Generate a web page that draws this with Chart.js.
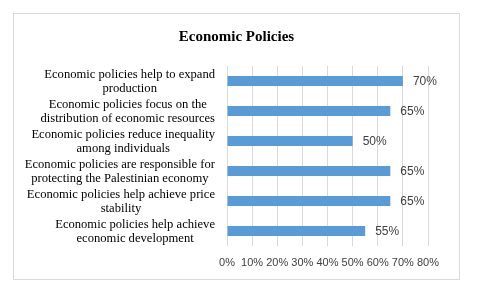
<!DOCTYPE html>
<html>
<head>
<meta charset="utf-8">
<script src="https://cdn.jsdelivr.net/npm/chart.js@4/dist/chart.umd.min.js"></script>
<style>
  html, body { margin: 0; padding: 0; background: #fff; }
  #wrap { position: relative; width: 480px; height: 293px; }
  #frame { position: absolute; left: 13px; top: 13px; width: 445px; height: 265px; border: 1px solid #d9d9d9; }
  #frame canvas { display: block; }
  #title { position: absolute; left: 0; top: 13px; width: 445px; text-align: center;
           font: bold 15px 'Liberation Serif', serif; color: #000; line-height: 18px; }
</style>
</head>
<body>
<div id="wrap">
  <div id="frame">
    <canvas id="chart" width="445" height="265"></canvas>
    <div id="title">Economic Policies</div>
  </div>
</div>
<script>
const categories = [
  ["Economic policies help to expand", "production"],
  ["Economic policies focus on the", "distribution of economic resources"],
  ["Economic policies reduce inequality", "among individuals"],
  ["Economic policies are responsible for", "protecting the Palestinian economy"],
  ["Economic policies help achieve price", "stability"],
  ["Economic policies help achieve", "economic development"]
];
const values = [70, 65, 50, 65, 65, 55];
const xTicks = [0, 10, 20, 30, 40, 50, 60, 70, 80];

const labelFont = "12.6px 'Liberation Serif', serif";

// category labels: block right-aligned to the axis, lines centred inside it
const catLabels = {
  id: "catLabels",
  afterDraw(chart) {
    const ctx = chart.ctx;
    const y = chart.scales.y;
    const right = chart.chartArea.left - 12;
    ctx.save();
    ctx.font = labelFont;
    ctx.fillStyle = "#000";
    ctx.textBaseline = "middle";
    ctx.textAlign = "center";
    categories.forEach((lines, i) => {
      const w = Math.max(...lines.map(l => ctx.measureText(l).width));
      const cx = right - w / 2;
      const cy = y.getPixelForTick(i);
      const lh = 14;
      lines.forEach((l, j) => {
        ctx.fillText(l, cx, cy + 0.5 + (j - (lines.length - 1) / 2) * lh);
      });
    });
    ctx.restore();
  }
};

// value labels at the end of each bar
const barLabels = {
  id: "barLabels",
  afterDatasetsDraw(chart) {
    const ctx = chart.ctx;
    const meta = chart.getDatasetMeta(0);
    ctx.save();
    ctx.font = "12px 'Liberation Sans', sans-serif";
    ctx.fillStyle = "#404040";
    ctx.textBaseline = "middle";
    meta.data.forEach((bar, i) => {
      ctx.fillText(values[i] + "%", bar.x + 10, bar.y + 1);
    });
    ctx.restore();
  }
};

new Chart(document.getElementById("chart"), {
  type: "bar",
  data: {
    labels: categories,
    datasets: [{
      data: values,
      backgroundColor: "#5b9bd5",
      categoryPercentage: 1,
      barPercentage: 0.34
    }]
  },
  options: {
    indexAxis: "y",
    responsive: false,
    animation: false,
    layout: { padding: { left: 0, right: 31, top: 52, bottom: 0 } },
    plugins: {
      legend: { display: false },
      tooltip: { enabled: false },
      title: { display: false }
    },
    scales: {
      x: {
        min: 0,
        max: 80,
        afterBuildTicks(axis) { axis.ticks = xTicks.map(v => ({ value: v })); },
        afterFit(axis) { axis.height = 33; },
        grid: { color: "#d9d9d9", drawTicks: false },
        border: { display: false },
        ticks: {
          padding: 10,
          autoSkip: false,
          maxRotation: 0,
          minRotation: 0,
          color: "#404040",
          font: { family: "'Liberation Sans', sans-serif", size: 11 },
          callback: v => v + "%"
        }
      },
      y: {
        afterFit(axis) { axis.width = 213; },
        grid: { display: false },
        border: { display: false },
        ticks: {
          autoSkip: false,
          color: "rgba(0,0,0,0)",
          font: { family: "'Liberation Serif', serif", size: 12 }
        }
      }
    }
  },
  plugins: [barLabels, catLabels]
});
</script>
</body>
</html>
